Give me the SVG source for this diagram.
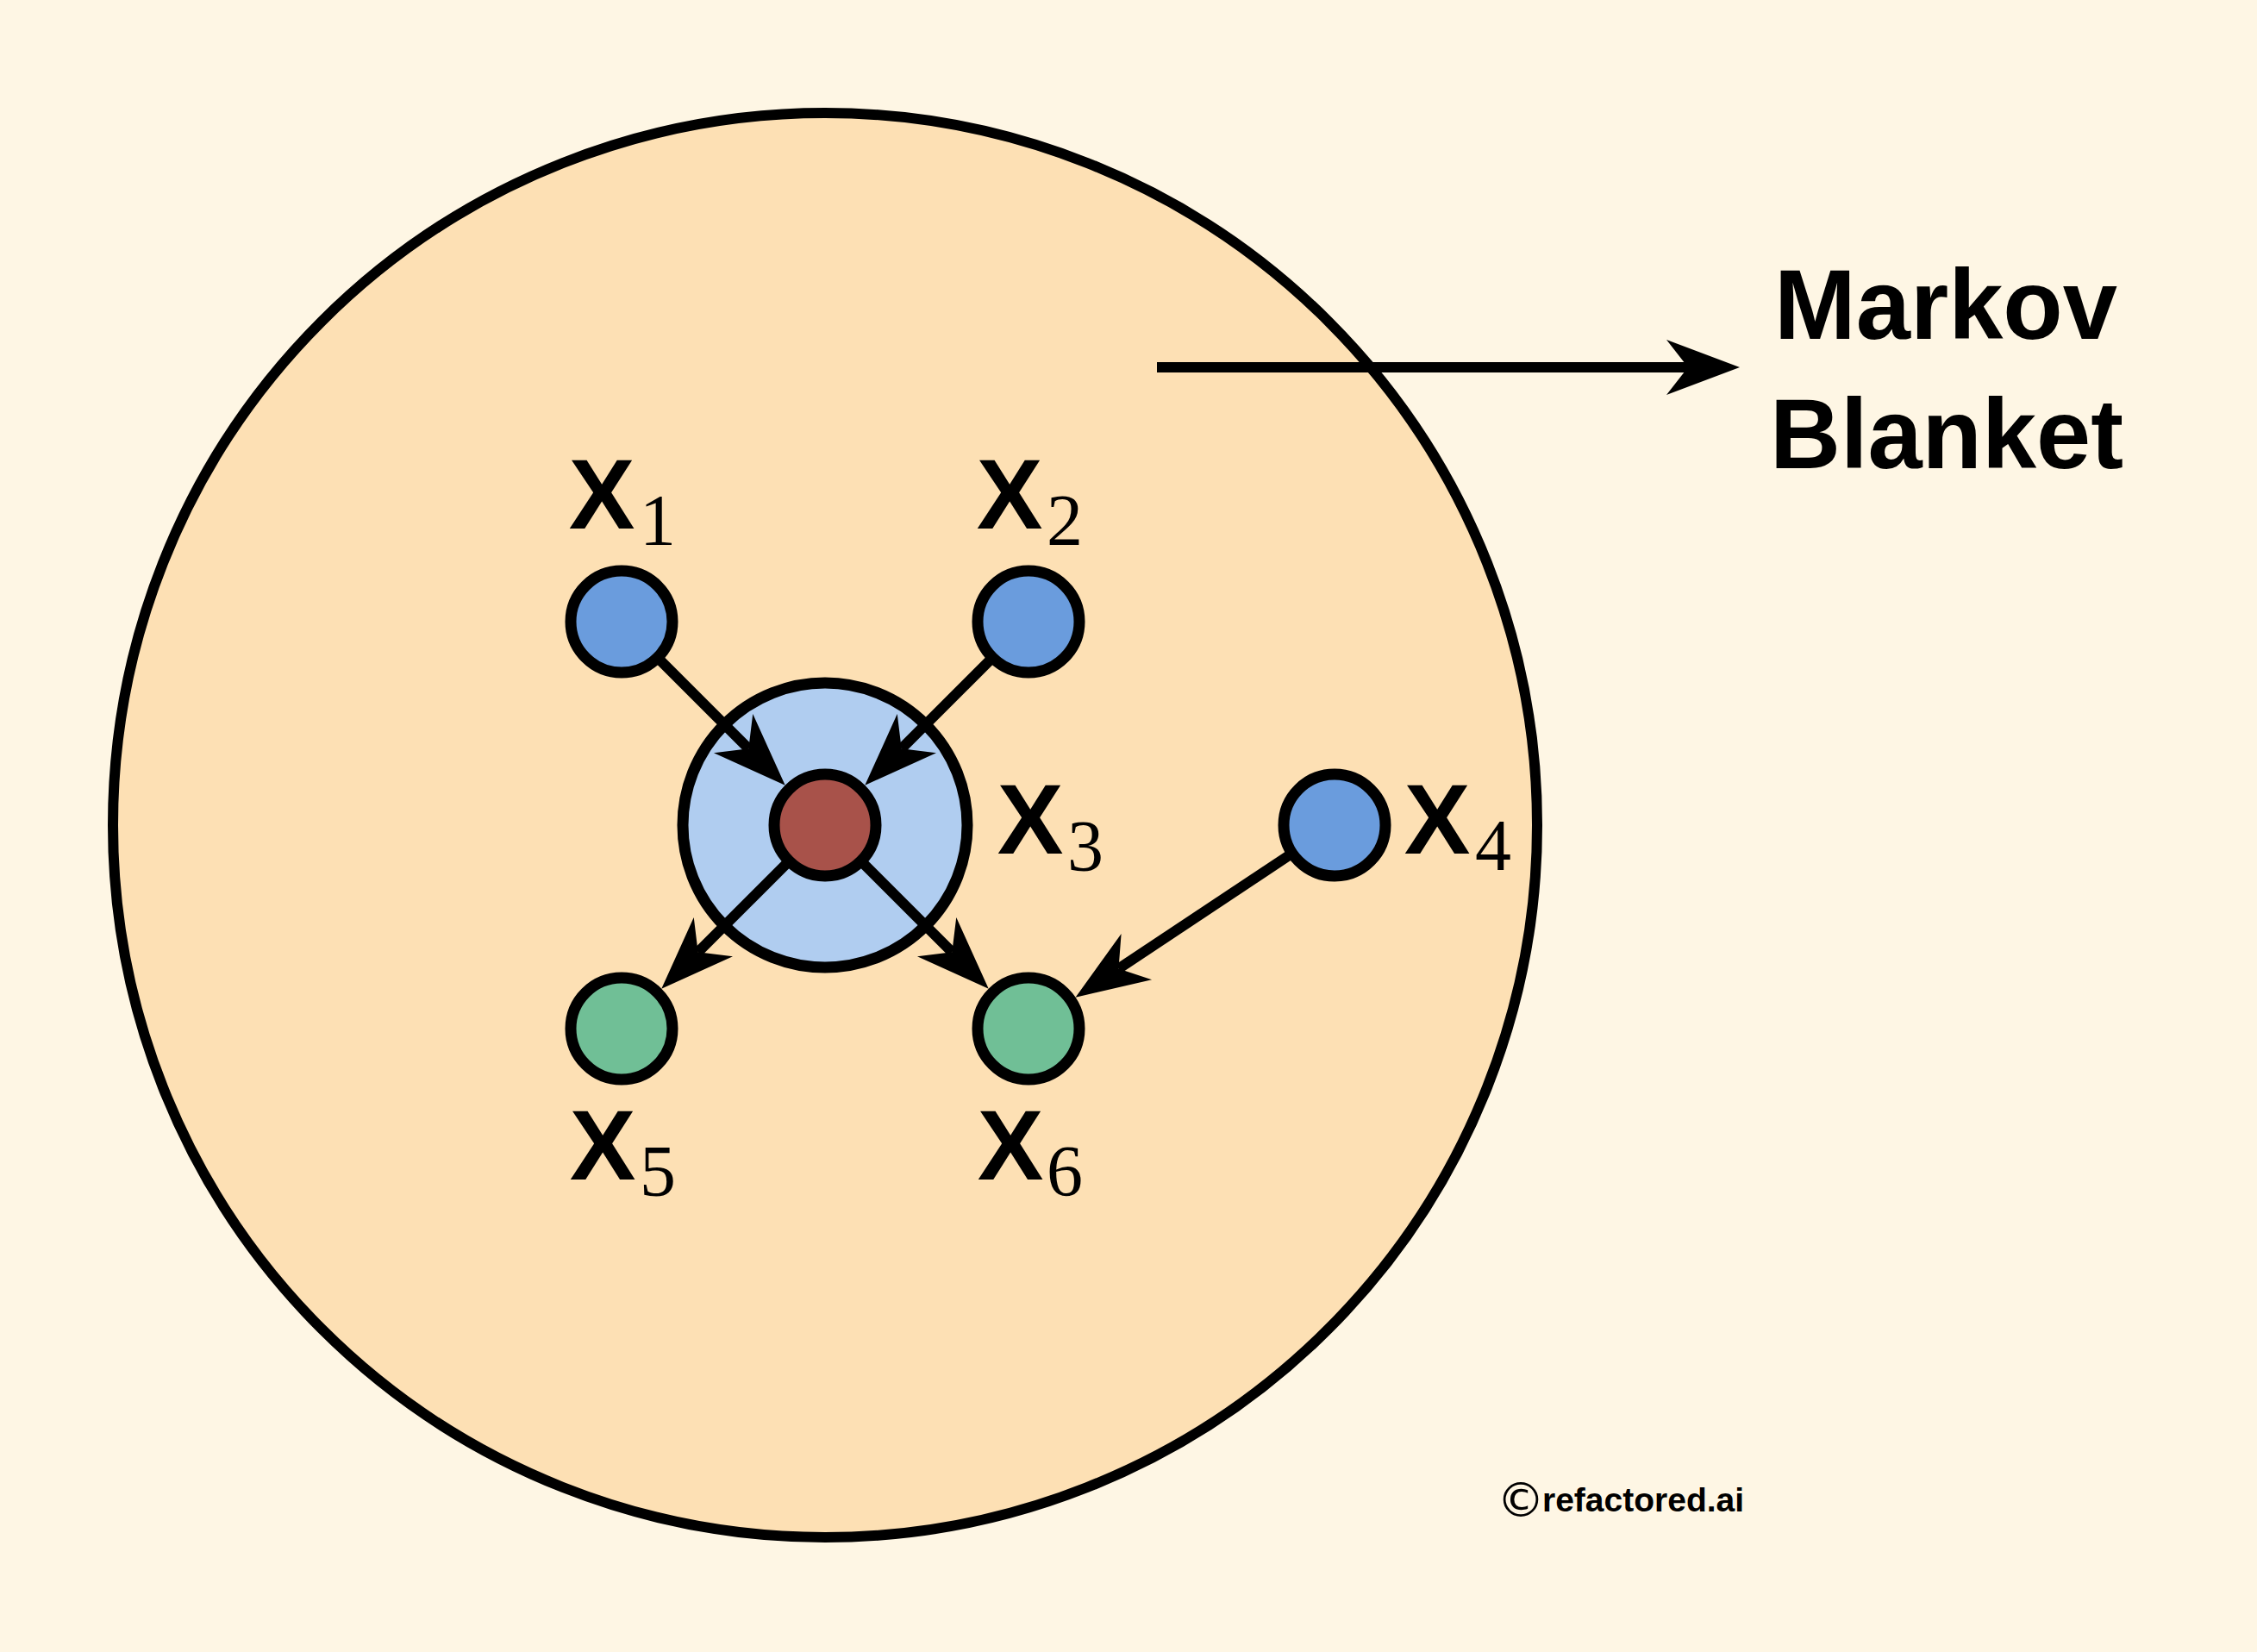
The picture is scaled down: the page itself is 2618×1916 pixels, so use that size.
<svg xmlns="http://www.w3.org/2000/svg" width="2618" height="1916" viewBox="0 0 2618 1916">
  <style>
    .node { stroke: #000; stroke-width: 13; }
    .blue { fill: #6a9cdd; }
    .green { fill: #70bf96; }
    .red { fill: #a8524a; }
    .edge { stroke: #000; stroke-width: 12; fill: none; marker-end: url(#arrow); }
    .lbl { font-family: "Liberation Sans", Arial, sans-serif; font-weight: bold; font-size: 115px; fill: #000; text-anchor: middle; }
    .sub { font-family: "Liberation Serif", "Times New Roman", serif; font-size: 84px; fill: #000; text-anchor: middle; }
    .title { font-family: "Liberation Sans", Arial, sans-serif; font-weight: bold; font-size: 115px; fill: #000; }
  </style>
  <defs>
    <marker id="arrow" markerUnits="userSpaceOnUse" viewBox="-30 -35 95 70" markerWidth="95" markerHeight="70" refX="0" refY="0" orient="auto" overflow="visible">
      <path d="M60,0 L-25,-32 L0,0 L-25,32 Z" fill="#000"/>
    </marker>
  </defs>

  <rect x="0" y="0" width="2618" height="1916" fill="#fef6e4"/>

  <g id="markov-blanket">
    <circle cx="957" cy="957" r="826" fill="#fde0b4" stroke="#000" stroke-width="12"/>
  </g>

  <g id="x3-neighbourhood">
    <circle cx="957" cy="957" r="165" fill="#b0cdf0" stroke="#000" stroke-width="13"/>
  </g>

  <g id="connectors">
    <line class="edge" x1="721" y1="721" x2="868.3" y2="868.3"/>
    <line class="edge" x1="1193" y1="721" x2="1045.7" y2="868.3"/>
    <line class="edge" x1="957" y1="957" x2="809.7" y2="1104.3"/>
    <line class="edge" x1="957" y1="957" x2="1104.3" y2="1104.3"/>
    <line class="edge" x1="1548" y1="957" x2="1297.5" y2="1123.5"/>
    <line class="edge" x1="1342" y1="426" x2="1958" y2="426" stroke-width="13"/>
  </g>

  <g id="x1">
    <circle class="node blue" cx="721" cy="721" r="59"/>
    <text class="lbl" x="698" y="613">X</text>
    <text class="sub" x="763" y="632">1</text>
  </g>
  <g id="x2">
    <circle class="node blue" cx="1193" cy="721" r="59"/>
    <text class="lbl" x="1171" y="613">X</text>
    <text class="sub" x="1235" y="632">2</text>
  </g>
  <g id="x3">
    <circle class="node red" cx="957" cy="957" r="59"/>
    <text class="lbl" x="1195" y="990">X</text>
    <text class="sub" x="1259" y="1010">3</text>
  </g>
  <g id="x4">
    <circle class="node blue" cx="1548" cy="957" r="59"/>
    <text class="lbl" x="1667" y="990">X</text>
    <text class="sub" x="1732" y="1009">4</text>
  </g>
  <g id="x5">
    <circle class="node green" cx="721" cy="1193" r="59"/>
    <text class="lbl" x="699" y="1368">X</text>
    <text class="sub" x="763" y="1387">5</text>
  </g>
  <g id="x6">
    <circle class="node green" cx="1193" cy="1193" r="59"/>
    <text class="lbl" x="1172" y="1368">X</text>
    <text class="sub" x="1235" y="1387">6</text>
  </g>

  <g id="markov-label">
    <text class="title" x="2058" y="393" textLength="398" lengthAdjust="spacingAndGlyphs">Markov</text>
    <text class="title" x="2053" y="543" textLength="410" lengthAdjust="spacingAndGlyphs">Blanket</text>
  </g>

  <g id="watermark">
    <text x="1736" y="1759" font-family="DejaVu Sans, sans-serif" font-size="56" fill="#000">©</text>
    <text x="1789" y="1753" font-family="Liberation Sans, Arial, sans-serif" font-weight="bold" font-size="39" fill="#000">refactored.ai</text>
  </g>
</svg>
